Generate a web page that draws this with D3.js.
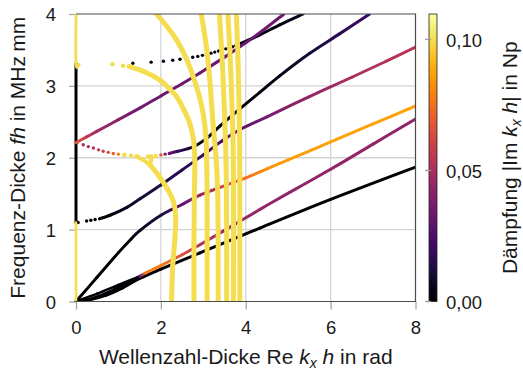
<!DOCTYPE html>
<html><head><meta charset="utf-8">
<script src="https://cdn.jsdelivr.net/npm/d3@7"></script>
<style>
body{margin:0;background:#fff}
text{font-family:"Liberation Sans",Arial,sans-serif;fill:#1a1a1a}
</style>
</head><body><svg id="c" width="523" height="370"></svg>
<script>
// ---------- tick values ----------
const xTicks = [0, 2, 4, 6, 8];
const yTicks = [0, 1, 2, 3, 4];
const cbTicks = [0, 0.05, 0.10];
const attMax = 0.1097;

// ---------- curves: [Re kh, fh, |Im kh|] ----------
const bundle1 = [[0,0,0],[0.5,0.11,0],[1.0,0.23,0],[1.5,0.35,0.002]];
const bundle2 = [[0,0,0],[0.4,0.05,0],[0.8,0.14,0],[1.2,0.26,0],[1.5,0.35,0.002]];
const lowBlack = [[0,0,0],[0.3,0.02,0],[0.7,0.085,0],[1.1,0.19,0],[1.5,0.32,0.001],[2.0,0.45,0.001],[2.92,0.675,0.001],[4.33,1.02,0.001],[6,1.42,0.001],[8,1.87,0.001]];
const magentaMode = [[1.5,0.35,0.03],[1.65,0.4,0.078],[2.0,0.5,0.078],[2.5,0.65,0.066],[2.92,0.79,0.052],[3.5,0.99,0.046],[4.33,1.28,0.044],[4.8,1.44,0.043],[6,1.84,0.043],[7,2.19,0.043],[8,2.54,0.043]];
const orangeMode = [[0,0,0],[0.5,0.34,0],[1.0,0.68,0.001],[1.3,0.87,0.003],[1.51,0.99,0.006],[2.0,1.2,0.012],[2.5,1.35,0.03],[2.92,1.48,0.045],[3.5,1.61,0.06],[4.0,1.72,0.075],[4.5,1.845,0.083],[5,1.97,0.086],[6,2.22,0.087],[7,2.47,0.087],[8,2.72,0.087]];
const a1Dots = [[0.05,1.10,0],[0.25,1.12,0],[0.35,1.13,0],[0.45,1.14,0]];
const a1Mode = [[0.55,1.15,0.001],[0.8,1.2,0.002],[1.2,1.31,0.006],[1.51,1.43,0.01],[2.0,1.62,0.013],[2.5,1.83,0.016],[3.0,2.04,0.02],[3.43,2.23,0.025],[3.86,2.39,0.03],[4.5,2.57,0.036],[5.5,2.85,0.044],[6.5,3.12,0.05],[7.3,3.34,0.053],[8,3.54,0.055]];
const s1Dots = [[0.02,2.21,0.035],[0.17,2.18,0.048],[0.29,2.155,0.05],[0.41,2.135,0.053],[0.53,2.11,0.056],[0.64,2.09,0.06],[0.76,2.075,0.065],[0.88,2.06,0.07],[1.0,2.05,0.08],[1.14,2.04,0.1],[1.30,2.027,0.1],[1.45,2.017,0.1],[1.70,2.015,0.1],[1.88,2.025,0.1],[2.0,2.04,0.068],[2.1,2.05,0.042],[2.2,2.06,0.033]];
const s1Mode = [[2.2,2.06,0.033],[2.4,2.09,0.018],[2.76,2.15,0.006],[3.1,2.28,0.002],[3.39,2.44,0.001],[3.86,2.68,0.001],[4.33,2.91,0.002],[4.8,3.14,0.004],[5.5,3.45,0.01],[6.2,3.72,0.016],[6.92,4.0,0.02]];
const s2Mode = [[0,2.21,0.068],[0.25,2.29,0.055],[0.5,2.37,0.048],[1,2.53,0.04],[1.5,2.69,0.035],[2,2.86,0.033],[2.5,3.03,0.033],[2.92,3.18,0.033],[3.5,3.4,0.033],[4,3.6,0.033],[4.4,3.77,0.033],[4.9,4.0,0.033]];
const a2Dots = [[1.34,3.315,0.003],[1.77,3.33,0.003],[2.06,3.343,0.003],[2.28,3.357,0.003],[2.45,3.37,0.003],[2.61,3.384,0.003],[2.75,3.398,0.003],[2.87,3.41,0.003],[2.98,3.425,0.003],[3.08,3.44,0.003],[3.18,3.455,0.003],[3.27,3.47,0.003],[3.36,3.485,0.003],[3.45,3.50,0.003],[3.53,3.515,0.003],[3.61,3.53,0.003],[3.69,3.545,0.003],[3.77,3.56,0.003]];
const a2Mode = [[3.77,3.56,0.003],[4.3,3.7,0.003],[4.8,3.85,0.004],[5.35,4.0,0.005]];
const imagLow = [[0,0,0.1],[0,1.1,0.1]];
const imagMid = [[0,1.1,0],[0,3.31,0]];
const imagTop = [[0,4.0,0.1],[0,3.31,0.1],[0.08,3.30,0.1]];
const evDots = [[0.86,3.30,0.1],[1.11,3.28,0.1]];
const evZgvL = [[1.42,2.02,0.1],[1.58,1.97,0.1],[1.74,1.9,0.1]];
const evZgvR = [[1.78,2.02,0.1],[1.77,1.96,0.1],[1.74,1.9,0.1]];
const evZgv = [[1.74,1.9,0.1],[1.95,1.75,0.1],[2.15,1.57,0.1],[2.29,1.40,0.1],[2.35,1.18,0.1],[2.33,0.86,0.1],[2.28,0.5,0.1],[2.25,0,0.1]];
const evArc1 = [[1.25,3.27,0.1],[1.6,3.2,0.1],[1.98,3.08,0.1],[2.2,2.96,0.1],[2.37,2.85,0.1],[2.55,2.66,0.1],[2.68,2.48,0.1],[2.77,2.25,0.1],[2.8,1.97,0.1],[2.79,1.5,0.1],[2.78,0.8,0.1],[2.78,0,0.1]];
const evArc2 = [[1.9,4.0,0.1],[2.15,3.82,0.1],[2.37,3.64,0.1],[2.6,3.38,0.1],[2.76,3.13,0.1],[2.9,2.87,0.1],[3.0,2.6,0.1],[3.06,2.3,0.1],[3.08,1.97,0.1],[3.09,1.5,0.1],[3.09,0.8,0.1],[3.09,0,0.1]];
const evArc3 = [[2.95,4.0,0.1],[3.06,3.6,0.1],[3.15,3.1,0.1],[3.23,2.47,0.1],[3.3,2.0,0.1],[3.34,1.5,0.1],[3.35,0.8,0.1],[3.35,0,0.1]];
const evArc4 = [[3.38,4.0,0.1],[3.45,3.3,0.1],[3.51,2.47,0.1],[3.54,1.8,0.1],[3.55,1.0,0.1],[3.55,0,0.1]];
const evArc5 = [[3.58,4.0,0.1],[3.64,3.3,0.1],[3.69,2.47,0.1],[3.71,1.8,0.1],[3.71,0,0.1]];
const evArc6 = [[3.78,4.0,0.1],[3.82,3.3,0.1],[3.85,2.47,0.1],[3.86,1.8,0.1],[3.86,0,0.1]];

// ---------- layout ----------
const L = 76, R = 415.5, T = 14, B = 301.5;
const svg = d3.select("#c");
const x = d3.scaleLinear().domain([0, 8]).range([L, R]);
const y = d3.scaleLinear().domain([0, 4]).range([B, T]);
const color = v => d3.interpolateInferno(Math.min(1, v / attMax));
const fmt = v => d3.format(".2f")(v).replace(".", ",");
const defs = svg.append("defs");
defs.append("clipPath").attr("id", "clip").append("rect")
  .attr("x", L - 3).attr("y", T).attr("width", R - L + 3).attr("height", B - T);

// grid
const grid = svg.append("g");
grid.selectAll(".gx").data(xTicks.slice(1, -1)).join("line")
  .attr("x1", d => x(d)).attr("x2", d => x(d)).attr("y1", T).attr("y2", B)
  .attr("stroke", "#d4d4d4").attr("stroke-width", 1.3);
grid.selectAll(".gy").data(yTicks.slice(1, -1)).join("line")
  .attr("y1", d => y(d)).attr("y2", d => y(d)).attr("x1", L).attr("x2", R)
  .attr("stroke", "#d4d4d4").attr("stroke-width", 1.3);

// axes
const xAxis = svg.append("g").attr("transform", `translate(0,${B})`)
  .call(d3.axisBottom(x).tickValues(xTicks).tickSize(8).tickPadding(11).tickFormat(d3.format("d")));
const yAxis = svg.append("g").attr("transform", `translate(${L},0)`)
  .call(d3.axisLeft(y).tickValues(yTicks).tickSize(7).tickPadding(13).tickFormat(d3.format("d")));
[xAxis, yAxis].forEach(a => {
  a.select(".domain").remove();
  a.selectAll(".tick line").attr("stroke", "#a8a8a8").attr("stroke-width", 1.3);
  a.selectAll("text").attr("font-size", 18.5).attr("fill", "#1a1a1a")
    .style("font-family", '"Liberation Sans",Arial,sans-serif');
});
yAxis.selectAll("text").attr("dy", "0.36em");

// left frame edge (under the curves)
svg.append("line").attr("x1", L).attr("x2", L).attr("y1", T).attr("y2", B)
  .attr("stroke", "#4a4a4a").attr("stroke-width", 1.2);

// curves
const curves = [
  {d: bundle1, w: 2.6}, {d: bundle2, w: 2.6}, {d: lowBlack, w: 3}, {d: magentaMode, w: 3},
  {d: orangeMode, w: 3}, {d: a1Mode, w: 3}, {d: s1Mode, w: 3}, {d: s2Mode, w: 3}, {d: a2Mode, w: 3},
  {d: imagLow, w: 2.6}, {d: imagMid, w: 3}, {d: imagTop, w: 2.8},
  {d: evZgvL, w: 4}, {d: evZgvR, w: 4}, {d: evZgv, w: 5}, {d: evArc1, w: 5}, {d: evArc2, w: 5},
  {d: evArc3, w: 5}, {d: evArc4, w: 5}, {d: evArc5, w: 5}, {d: evArc6, w: 5}
];
const dotSets = [a1Dots, s1Dots, a2Dots, evDots];
const items = [];
let gid = 0;
curves.forEach(c => {
  const p = c.d.map(d => [x(d[0]), y(d[1]), d[2]]);
  for (let i = 0; i < p.length - 1; i++) {
    const p0 = p[i - 1] || p[i], p1 = p[i], p2 = p[i + 1], p3 = p[i + 2] || p[i + 1];
    const c1 = [p1[0] + (p2[0] - p0[0]) / 6, p1[1] + (p2[1] - p0[1]) / 6];
    const c2 = [p2[0] - (p3[0] - p1[0]) / 6, p2[1] - (p3[1] - p1[1]) / 6];
    items.push({type: "seg", att: Math.max(p1[2], p2[2]), w: c.w,
      path: `M${p1[0]},${p1[1]}C${c1[0]},${c1[1]} ${c2[0]},${c2[1]} ${p2[0]},${p2[1]}`,
      p1, p2});
  }
});
dotSets.forEach(s => s.forEach(d => items.push({type: "dot", att: d[2], cx: x(d[0]), cy: y(d[1])})));
items.sort((a, b) => a.att - b.att);

const plot = svg.append("g").attr("clip-path", "url(#clip)");
items.forEach(it => {
  if (it.type === "dot") {
    plot.append("circle").attr("cx", it.cx).attr("cy", it.cy)
      .attr("r", it.att >= 0.095 ? 2.3 : 1.7).attr("fill", color(it.att));
  } else {
    let stroke;
    if (Math.abs(it.p1[2] - it.p2[2]) < 1e-9) stroke = color(it.p1[2]);
    else {
      const id = "g" + (gid++);
      const g = defs.append("linearGradient").attr("id", id).attr("gradientUnits", "userSpaceOnUse")
        .attr("x1", it.p1[0]).attr("y1", it.p1[1]).attr("x2", it.p2[0]).attr("y2", it.p2[1]);
      g.append("stop").attr("offset", 0).attr("stop-color", color(it.p1[2]));
      g.append("stop").attr("offset", 1).attr("stop-color", color(it.p2[2]));
      stroke = `url(#${id})`;
    }
    plot.append("path").attr("d", it.path).attr("fill", "none").attr("stroke", stroke)
      .attr("stroke-width", it.w).attr("stroke-linecap", "round");
  }
});

// remaining frame edges
svg.append("path").attr("d", `M${L},${T}H${R}V${B}H${L}`)
  .attr("fill", "none").attr("stroke", "#4a4a4a").attr("stroke-width", 1.2);

// colorbar
const cb = d3.scaleLinear().domain([0, attMax]).range([B, T]);
const cg = defs.append("linearGradient").attr("id", "cbg").attr("x1", 0).attr("y1", 1).attr("x2", 0).attr("y2", 0);
d3.range(0, 1.0001, 0.05).forEach(t => cg.append("stop").attr("offset", t).attr("stop-color", d3.interpolateInferno(t)));
svg.append("rect").attr("x", 429).attr("y", T).attr("width", 8).attr("height", B - T)
  .attr("fill", "url(#cbg)").attr("stroke", "#222").attr("stroke-width", 0.8);
const cAxis = svg.append("g").attr("transform", "translate(437,0)")
  .call(d3.axisRight(cb).tickValues(cbTicks).tickSize(0).tickPadding(9).tickFormat(fmt));
cAxis.select(".domain").remove();
cAxis.selectAll("text").attr("font-size", 18.5).attr("fill", "#1a1a1a").attr("dy", "0.36em")
  .style("font-family", '"Liberation Sans",Arial,sans-serif');
svg.append("g").selectAll("line").data(cbTicks).join("line")
  .attr("x1", 425).attr("x2", 431).attr("y1", d => cb(d)).attr("y2", d => cb(d))
  .attr("stroke", "#9a9a9a").attr("stroke-width", 1.3);

// labels
const xl = svg.append("text").attr("x", (L + R) / 2).attr("y", 364).attr("text-anchor", "middle").attr("font-size", 21);
xl.append("tspan").text("Wellenzahl-Dicke Re ");
xl.append("tspan").attr("font-style", "italic").text("k");
xl.append("tspan").attr("font-style", "italic").attr("font-size", 14).attr("dy", 4).text("x");
xl.append("tspan").attr("font-style", "italic").attr("dy", -4).text(" h");
xl.append("tspan").text(" in rad");

const yl = svg.append("text").attr("transform", `translate(25,${(T + B) / 2}) rotate(-90)`)
  .attr("text-anchor", "middle").attr("font-size", 21);
yl.append("tspan").text("Frequenz-Dicke ");
yl.append("tspan").attr("font-style", "italic").text("fh");
yl.append("tspan").text(" in MHz\u2009mm");

const cl = svg.append("text").attr("transform", `translate(517,${(T + B) / 2}) rotate(-90)`)
  .attr("text-anchor", "middle").attr("font-size", 21);
cl.append("tspan").text("Dämpfung |Im ");
cl.append("tspan").attr("font-style", "italic").text("k");
cl.append("tspan").attr("font-style", "italic").attr("font-size", 14).attr("dy", 4).text("x");
cl.append("tspan").attr("font-style", "italic").attr("dy", -4).text(" h");
cl.append("tspan").text("| in Np");
</script></body></html>
